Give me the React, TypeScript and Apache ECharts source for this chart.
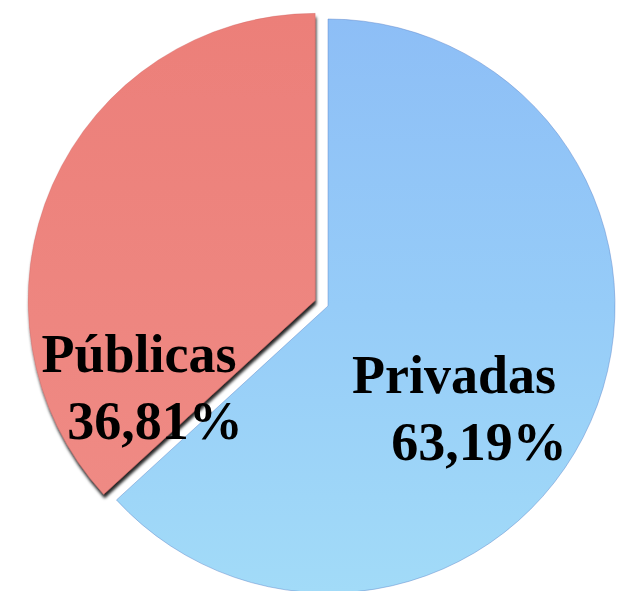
import React, { useEffect, useRef } from "react";
import * as echarts from "echarts";

const categories = ["Privadas", "Públicas"];
const shares = [63.19, 36.81];
const explodedIndex = 1;

const labelShift: Record<number, { dx: number; dy: number; pad: number }> = {
  0: { dx: -8, dy: 44, pad: 50 },
  1: { dx: -42, dy: 146, pad: 32 },
};

const fmt = (v: number) => v.toFixed(2).replace(".", ",") + "%";

export default function App() {
  const ref = useRef<HTMLDivElement>(null);
  useEffect(() => {
    if (!ref.current) return;
    const chart = echarts.init(ref.current, undefined, { renderer: "svg" });
    const font = {
      fontFamily: "'Liberation Serif', 'Times New Roman', serif",
      fontWeight: "bold" as const,
      fontSize: 54,
      lineHeight: 67,
      color: "#000",
    };
    const colors = [
      new echarts.graphic.LinearGradient(0, 0, 0, 1, [
        { offset: 0, color: "#8DBEF6" },
        { offset: 0.5, color: "#96CCF8" },
        { offset: 1, color: "#A2DBF8" },
      ]),
      new echarts.graphic.LinearGradient(0, 0, 0, 1, [
        { offset: 0, color: "#EC7F79" },
        { offset: 1, color: "#EF8A84" },
      ]),
    ];
    chart.setOption({
      animation: false,
      series: [
        {
          type: "pie",
          center: [328, 306],
          radius: 287,
          startAngle: 90,
          clockwise: true,
          selectedMode: "single",
          selectedOffset: 14,
          avoidLabelOverlap: false,
          emphasis: { disabled: true },
          labelLine: { show: false },
          labelLayout: (params: any) => {
            const s = labelShift[params.dataIndex];
            return { dx: s.dx, dy: s.dy };
          },
          data: categories.map((name, i) => ({
            name,
            value: shares[i],
            selected: i === explodedIndex,
            itemStyle: {
              color: colors[i],
              borderColor: i === 0 ? "rgba(90,130,200,0.45)" : "rgba(200,90,90,0.3)",
              borderWidth: 1,
              ...(i === explodedIndex
                ? {
                    shadowColor: "rgba(0,0,0,0.85)",
                    shadowBlur: 3,
                    shadowOffsetX: 1,
                    shadowOffsetY: 4,
                  }
                : {}),
            },
            label: {
              show: true,
              position: "inside",
              formatter: `{n|${name}}\n{v|${fmt(shares[i])}}`,
              rich: {
                n: { ...font },
                v: { ...font, padding: [0, 0, 0, labelShift[i].pad] },
              },
            },
          })),
        },
      ],
    });
    return () => chart.dispose();
  }, []);
  return (
    <div
      ref={ref}
      style={{ position: "fixed", left: 0, top: 0, width: 622, height: 591, background: "#fff" }}
    />
  );
}
